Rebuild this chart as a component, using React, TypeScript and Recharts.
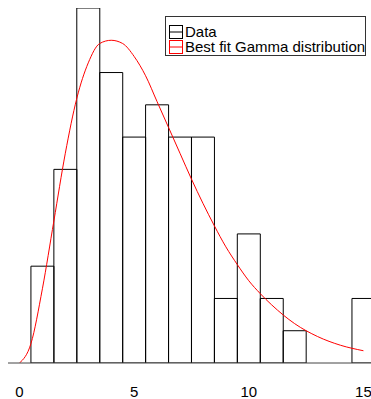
import React from 'react';
import { ComposedChart, Bar, Line, XAxis, YAxis } from 'recharts';

// histogram bins (centres) and counts
const binCenters = [1, 2, 3, 4, 5, 6, 7, 8, 9, 10, 11, 12, 13, 14, 15];
const binCounts = [3, 6, 11, 9, 7, 8, 7, 7, 2, 4, 2, 1, 0, 0, 2];

// fitted gamma curve
const curveX = [0, 0.5, 1, 1.5, 2, 2.5, 3, 3.5, 4, 4.5, 5, 5.5, 6, 6.5, 7, 7.5, 8, 8.5, 9, 9.5, 10, 10.5, 11, 12, 13, 14, 15];
const curveY = [0, 0.6, 2.3, 4.4, 6.5, 8.2, 9.3, 9.9, 10.0, 9.9, 9.5, 8.9, 8.1, 7.3, 6.5, 5.7, 4.95, 4.25, 3.6, 3.05, 2.55, 2.15, 1.8, 1.22, 0.82, 0.55, 0.38];

const xTicks = [0, 5, 10, 15];
const xDomain: [number, number] = [-0.5, 15.33];
const legendLabels = ['Data', 'Best fit Gamma distribution'];
const legendColors = ['#000000', '#ff0000'];

const FONT = '"Liberation Sans", Arial, sans-serif';

const histData = binCenters.map((x, i) => ({ x, count: binCounts[i] }));
const curveData = curveX.map((x, i) => ({ x, fit: curveY[i] }));

const LegendBox = () => (
  <div
    style={{
      position: 'absolute',
      left: 165,
      top: 16,
      width: 201,
      height: 40,
      border: '1px solid #333',
      background: '#fff',
      boxSizing: 'border-box',
      paddingTop: 8,
      paddingLeft: 3,
      fontFamily: FONT,
      fontSize: 15,
      color: '#000',
    }}
  >
    {legendLabels.map((label, i) => (
      <div key={label} style={{ display: 'flex', alignItems: 'center', height: 14.5, lineHeight: '14px', whiteSpace: 'nowrap' }}>
        <svg width={14} height={14} style={{ marginRight: 2, flex: 'none' }}>
          <rect x={0.5} y={0.5} width={13} height={13} fill="none" stroke={legendColors[i]} />
          <line x1={0.5} y1={7} x2={13.5} y2={7} stroke={legendColors[i]} />
        </svg>
        <span>{label}</span>
      </div>
    ))}
  </div>
);

export default function App() {
  return (
    <div style={{ position: 'absolute', left: 0, top: 0, width: 371, height: 399 }}>
      <ComposedChart
        width={371}
        height={399}
        data={histData}
        margin={{ top: 8, right: 0, left: 8, bottom: 0 }}
        barCategoryGap={0}
        barGap={0}
      >
        <XAxis
          dataKey="x"
          type="number"
          domain={xDomain}
          allowDataOverflow
          ticks={xTicks}
          interval={0}
          height={36}
          tickLine={false}
          tickMargin={17}
          axisLine={{ stroke: '#444', strokeWidth: 1 }}
          tick={{ fill: '#000', fontSize: 15, fontFamily: FONT }}
        />
        <XAxis xAxisId="curve" dataKey="x" type="number" domain={xDomain} allowDataOverflow hide />
        <YAxis hide domain={[0, 11]} allowDataOverflow />
        <Bar
          dataKey="count"
          fill="none"
          stroke="#000"
          strokeWidth={1}
          isAnimationActive={false}
        />
        <Line
          data={curveData}
          xAxisId="curve"
          dataKey="fit"
          type="monotone"
          stroke="#ff0000"
          strokeWidth={1}
          dot={false}
          activeDot={false}
          isAnimationActive={false}
        />
      </ComposedChart>
      <LegendBox />
    </div>
  );
}
